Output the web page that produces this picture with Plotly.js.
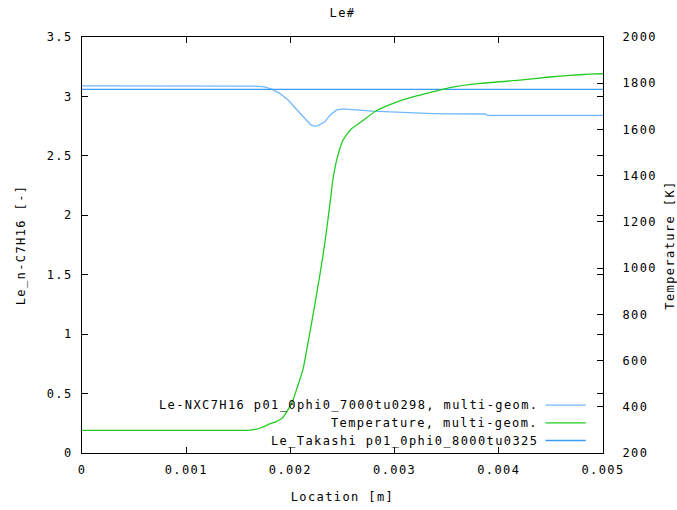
<!DOCTYPE html>
<html>
<head>
<meta charset="utf-8">
<script src="https://cdn.plot.ly/plotly-3.0.1.min.js"></script>
<style>
html, body { margin: 0; padding: 0; background: #fff; }
#chart { width: 677px; height: 510px; }
svg text { letter-spacing: 1.4px; }
</style>
</head>
<body>
<div id="chart"></div>
<script>
// ---- data ----
const leNxX = [0, 0.0005, 0.001, 0.0015, 0.00162, 0.00168, 0.00175, 0.00182, 0.0019, 0.00198, 0.00206, 0.00212, 0.00217, 0.0022, 0.00223, 0.00226, 0.00229, 0.00233, 0.00238, 0.00244, 0.0025, 0.00255, 0.00266, 0.00279, 0.00305, 0.00337, 0.00353, 0.00387, 0.00389, 0.0045, 0.005];
const leNxY = [3.088, 3.088, 3.088, 3.088, 3.088, 3.086, 3.080, 3.061, 3.024, 2.968, 2.890, 2.828, 2.785, 2.758, 2.750, 2.752, 2.764, 2.786, 2.842, 2.884, 2.895, 2.893, 2.884, 2.876, 2.865, 2.856, 2.853, 2.852, 2.840, 2.840, 2.840];

const tempX = [0, 0.0005, 0.001, 0.0015, 0.00158, 0.00165, 0.0017, 0.00175, 0.0018, 0.00186, 0.0019, 0.00193, 0.00196, 0.002, 0.00203, 0.00207, 0.00212, 0.00217, 0.00222, 0.00228, 0.00233, 0.00238, 0.00241, 0.00244, 0.00247, 0.0025, 0.00254, 0.00258, 0.00264, 0.0027, 0.00282, 0.00298, 0.00321, 0.00343, 0.00353, 0.00382, 0.0042, 0.00449, 0.00468, 0.00487, 0.005];
const tempY = [298, 298, 298, 298, 298, 301, 306, 315, 326, 335, 345, 355, 375, 405, 435, 490, 560, 680, 805, 963, 1107, 1280, 1390, 1460, 1510, 1550, 1578, 1600, 1620, 1640, 1680, 1712, 1745, 1770, 1781, 1799, 1813, 1827, 1834, 1839, 1841];

const takX = [0, 0.0025, 0.005];
const takY = [3.06, 3.06, 3.06];

const seriesNames = ["Le-NXC7H16 p01_0phi0_7000tu0298, multi-geom.", "Temperature, multi-geom.", "Le_Takashi p01_0phi0_8000tu0325"];
const seriesColors = ["#70b8ff", "#22cc22", "#3d9cf5"];

const xTickVals = [0, 0.001, 0.002, 0.003, 0.004, 0.005];
const xTickText = ["0", "0.001", "0.002", "0.003", "0.004", "0.005"];
const yTickVals = [0, 0.5, 1, 1.5, 2, 2.5, 3, 3.5];
const yTickText = ["0", "0.5", "1", "1.5", "2", "2.5", "3", "3.5"];
const y2TickVals = [200, 400, 600, 800, 1000, 1200, 1400, 1600, 1800, 2000];
const y2TickText = ["200", "400", "600", "800", "1000", "1200", "1400", "1600", "1800", "2000"];

// ---- chart ----
const FONT = "DejaVu Sans Mono, monospace";
const font = {family: FONT, size: 12, color: "#000"};
const LW = 1.3;

const traces = [
  {x: leNxX, y: leNxY, type: "scatter", mode: "lines", name: seriesNames[0], line: {color: seriesColors[0], width: LW}, yaxis: "y"},
  {x: tempX, y: tempY, type: "scatter", mode: "lines", name: seriesNames[1], line: {color: seriesColors[1], width: LW, shape: "spline", smoothing: 0.5}, yaxis: "y2"},
  {x: takX, y: takY, type: "scatter", mode: "lines", name: seriesNames[2], line: {color: seriesColors[2], width: LW}, yaxis: "y"}
];

// legend drawn gnuplot-style: right-aligned text, sample line to the right
const legRowY = [0.1152, 0.0722, 0.0300];
const annotations = seriesNames.map((n, i) => ({
  xref: "paper", yref: "paper", x: 0.879, y: legRowY[i], xanchor: "right", yanchor: "middle",
  text: n, showarrow: false, font: font
}));
const shapes = seriesNames.map((n, i) => ({
  type: "line", xref: "paper", yref: "paper", x0: 0.8896, x1: 0.9668, y0: legRowY[i], y1: legRowY[i],
  line: {color: seriesColors[i], width: LW}
}));

const axisCommon = {
  showgrid: false, zeroline: false, showline: true, linecolor: "#000", linewidth: 1,
  ticks: "inside", ticklen: 6, tickcolor: "#000", tickwidth: 1, tickfont: font
};

const layout = {
  width: 677, height: 510,
  margin: {l: 82, r: 74, t: 37, b: 57, pad: 0},
  paper_bgcolor: "#fff", plot_bgcolor: "#fff",
  font: font,
  showlegend: false,
  title: {text: "Le#", font: font, x: 0.5, xref: "paper", xanchor: "center", y: 1 - 13 / 510, yref: "container", yanchor: "middle"},
  xaxis: Object.assign({}, axisCommon, {
    range: [0, 0.005], tickvals: xTickVals, ticktext: xTickText, mirror: "ticks",
    ticklabelstandoff: 6,
    title: {text: "Location [m]", font: font, standoff: 16}
  }),
  yaxis: Object.assign({}, axisCommon, {
    range: [0, 3.5], tickvals: yTickVals, ticktext: yTickText, mirror: "ticks",
    ticklabelstandoff: 6,
    title: {text: "Le_n-C7H16 [-]", font: font, standoff: 18}
  }),
  yaxis2: Object.assign({}, axisCommon, {
    range: [200, 2000], tickvals: y2TickVals, ticktext: y2TickText, overlaying: "y", side: "right",
    ticklabelstandoff: 16,
    title: {text: "Temperature [K]", font: font, standoff: 14}
  }),
  annotations: annotations,
  shapes: shapes
};

Plotly.newPlot("chart", traces, layout, {displayModeBar: false, staticPlot: true});
</script>
</body>
</html>
